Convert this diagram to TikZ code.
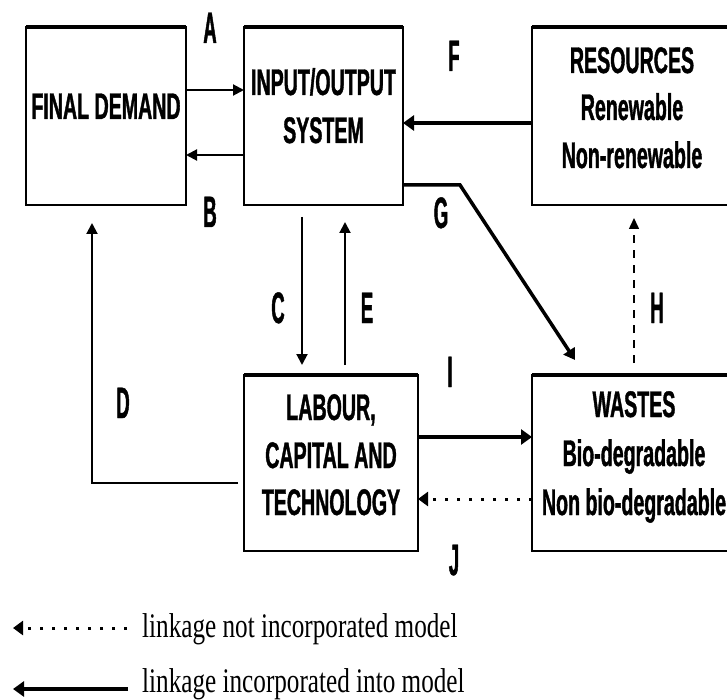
\documentclass[tikz,border=0pt]{standalone}
\usepackage{fontspec}
\usetikzlibrary{arrows.meta,calc}
\newfontfamily\boxfont[FakeStretch=0.53,FakeBold=1]{Liberation Sans}
\newfontfamily\labfont[FakeStretch=0.42,FakeBold=1]{Liberation Sans}
\newfontfamily\legfont[FakeStretch=0.73]{Liberation Serif}
\begin{document}
\begin{tikzpicture}[x=1pt,y=-1pt,
  box/.style={draw,line width=2.5pt,inner sep=0pt,outer sep=0pt},
  boxtxt/.style={anchor=base,inner sep=0pt,font=\boxfont\bfseries\fontsize{37}{37}\selectfont},
  lbl/.style={anchor=base,inner sep=0pt,font=\labfont\bfseries\fontsize{44}{44}\selectfont},
  legtxt/.style={anchor=base west,inner sep=0pt,font=\legfont\fontsize{34.5}{34.5}\selectfont},
  thinarr/.style={line width=2pt,-{Triangle[length=11pt,width=11pt]}},
  thickarr/.style={line width=4.5pt,-{Triangle[length=11pt,width=15pt]}},
  midarr/.style={line width=3.5pt,-{Triangle[length=11pt,width=13pt]}},
  dotarr/.style={line width=3pt,dash pattern=on 3pt off 9pt,-{Triangle[length=10pt,width=14pt]}},
  dasharr/.style={line width=1.5pt,dash pattern=on 8pt off 7pt,-{Triangle[length=11pt,width=10pt]}},
]
\useasboundingbox (0,0) rectangle (727,700);

% boxes
\node[box,minimum width=160pt,minimum height=178pt] (fd) at (106,116) {};
\node[box,minimum width=159pt,minimum height=178pt] (io) at (323.5,116) {};
\node[box,minimum width=203pt,minimum height=178pt] (res) at (633.5,116) {};
\node[box,minimum width=174pt,minimum height=176pt] (lab) at (331,463) {};
\node[box,minimum width=203pt,minimum height=176pt] (ws) at (633.5,463) {};
\foreach \b in {fd,io,res,lab,ws}
  \draw[line width=4.5pt] (\b.north west) -- (\b.north east);

% box texts
\node[boxtxt] (fdt) at (106,119) {FINAL DEMAND};
\node[boxtxt] (iot1) at (323.5,95) {INPUT/OUTPUT};
\node[boxtxt] (iot2) at (323.5,143) {SYSTEM};
\node[boxtxt] (rest1) at (632,73) {RESOURCES};
\node[boxtxt] (rest2) at (632,120) {Renewable};
\node[boxtxt] (rest3) at (632,168) {Non-renewable};
\node[boxtxt] (labt1) at (331,420) {LABOUR,};
\node[boxtxt] (labt2) at (331,468) {CAPITAL AND};
\node[boxtxt] (labt3) at (331,515) {TECHNOLOGY};
\node[boxtxt] (wst1) at (634,417) {WASTES};
\node[boxtxt] (wst2) at (634,466) {Bio-degradable};
\node[boxtxt] (wst3) at (634,515) {Non bio-degradable};

% connector labels
\node[lbl] (la) at (210,43) {A};
\node[lbl] (lb) at (210,227) {B};
\node[lbl] (lf) at (454,71) {F};
\node[lbl] (lg) at (441,228) {G};
\node[lbl] (lc) at (278,323) {C};
\node[lbl] (le) at (367,323) {E};
\node[lbl] (ld) at (123,418) {D};
\node[lbl] (lh) at (657,323) {H};
\node[lbl] (li) at (450,387) {I};
\node[lbl] (lj) at (454,575) {J};

% connectors
\draw[thinarr] ([yshift=26pt]fd.east) -- ([yshift=26pt]io.west);
\draw[thinarr] ([yshift=-39pt]io.west) -- ([yshift=-39pt]fd.east);
\draw[thickarr] ([yshift=-7pt]res.west) -- ([yshift=-7pt]io.east);
\draw[midarr] ([yshift=-69pt]io.east) -- ++(57,0) -- ($(ws.north west)+(43,-15)$);
\draw[thinarr] ([xshift=-21.5pt,yshift=-12pt]io.south) -- ([xshift=-29pt,yshift=10pt]lab.north);
\draw[thinarr] ([xshift=14pt,yshift=10pt]lab.north) -- ([xshift=21.5pt,yshift=-17pt]io.south);
\draw[thinarr] ([xshift=-6pt,yshift=-20pt]lab.west) -| ([xshift=-14pt,yshift=-18pt]fd.south);
\draw[dasharr] ([xshift=0.5pt,yshift=12pt]ws.north) -- ([xshift=0.5pt,yshift=-13pt]res.south);
\draw[thickarr] ([yshift=26pt]lab.east) -- ([yshift=26pt]ws.west);
\draw[dotarr] ([yshift=-36pt]ws.west) -- ([yshift=-36pt]lab.east);

% legend
\node[legtxt] (leg1) at (142,637) {linkage not incorporated model};
\node[legtxt] (leg2) at (142,692) {linkage incorporated into model};
\coordinate (k1s) at (127,628);
\coordinate (k1e) at (13,628);
\coordinate (k2s) at (128,689);
\coordinate (k2e) at (13,689);
\draw[dotarr] (k1s) -- (k1e);
\draw[thickarr] (k2s) -- (k2e);
\end{tikzpicture}
\end{document}
